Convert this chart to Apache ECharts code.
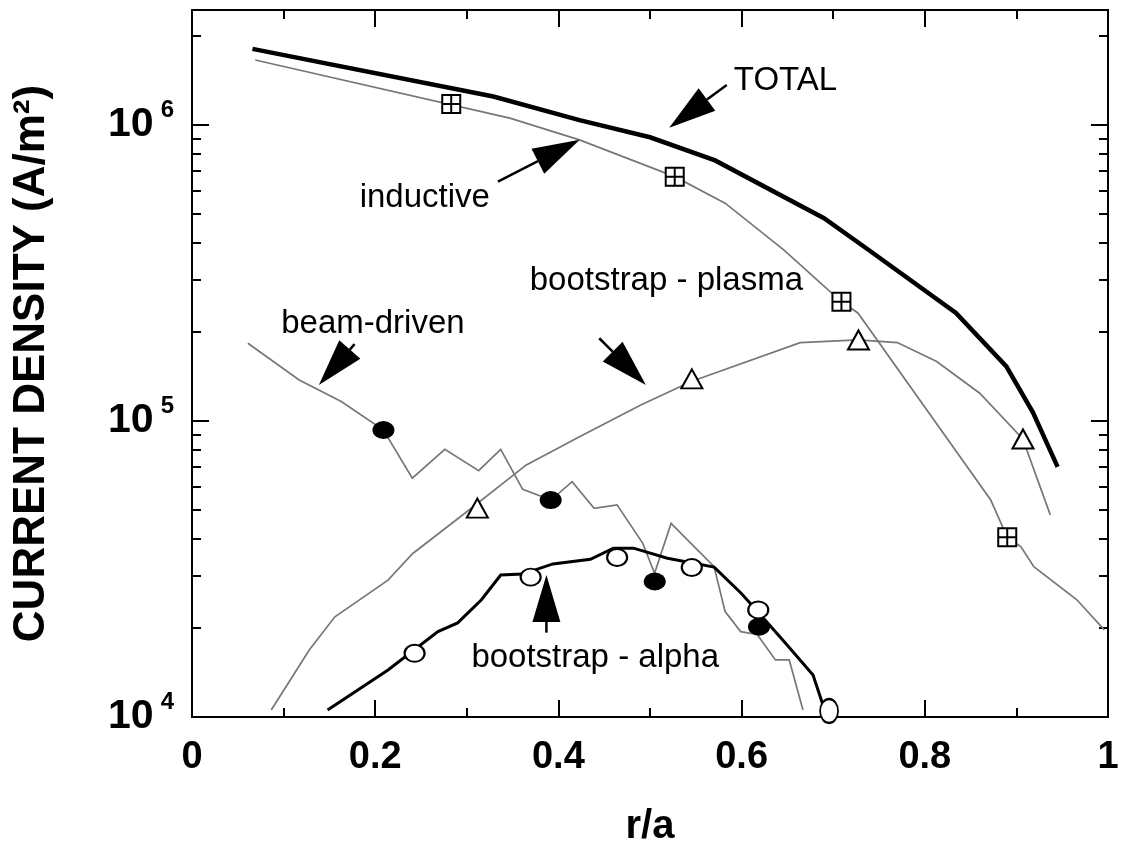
<!DOCTYPE html>
<html>
<head>
<meta charset="utf-8">
<title>Current density profiles</title>
<script src="https://cdn.jsdelivr.net/npm/echarts@6/dist/echarts.min.js"></script>
<style>
  html, body { margin: 0; padding: 0; background: #fff; }
  #chart { width: 1131px; height: 844px; }
</style>
</head>
<body>
<div id="chart"></div>
<script>
// ---- data: normalised radius r/a and current density J (A/m^2) ----
const totalR = [0.066, 0.329, 0.423, 0.500, 0.571, 0.690, 0.738, 0.834, 0.889, 0.918, 0.945];
const totalJ = [1.81e6, 1.25e6, 1.04e6, 9.1e5, 7.6e5, 4.85e5, 3.8e5, 2.32e5, 1.53e5, 1.07e5, 7.0e4];

const inductiveR = [0.069, 0.347, 0.423, 0.527, 0.582, 0.646, 0.709, 0.727, 0.872, 0.890, 0.905, 0.919, 0.966, 0.996];
const inductiveJ = [1.66e6, 1.056e6, 8.92e5, 6.70e5, 5.45e5, 3.79e5, 2.53e5, 2.32e5, 5.41e4, 4.05e4, 3.76e4, 3.22e4, 2.49e4, 1.97e4];

const plasmaR = [0.0865, 0.128, 0.156, 0.214, 0.241, 0.300, 0.365, 0.423, 0.490, 0.545, 0.664, 0.727, 0.770, 0.813, 0.860, 0.907, 0.937];
const plasmaJ = [1.056e4, 1.685e4, 2.18e4, 2.90e4, 3.57e4, 4.94e4, 7.11e4, 8.86e4, 1.134e5, 1.36e5, 1.842e5, 1.88e5, 1.842e5, 1.589e5, 1.242e5, 8.7e4, 4.82e4];

const beamR = [0.061, 0.117, 0.163, 0.209, 0.2405, 0.276, 0.313, 0.337, 0.361, 0.392, 0.415, 0.439, 0.464, 0.492, 0.505, 0.523, 0.570, 0.582, 0.599, 0.617, 0.637, 0.652, 0.667];
const beamJ = [1.833e5, 1.377e5, 1.164e5, 9.33e4, 6.41e4, 8.03e4, 6.80e4, 8.03e4, 5.88e4, 5.41e4, 6.24e4, 5.07e4, 5.21e4, 3.87e4, 3.06e4, 4.51e4, 3.22e4, 2.27e4, 1.943e4, 1.9e4, 1.559e4, 1.559e4, 1.056e4];

const alphaR = [0.148, 0.214, 0.2685, 0.290, 0.316, 0.337, 0.361, 0.394, 0.435, 0.460, 0.482, 0.519, 0.570, 0.5995, 0.616, 0.648, 0.678, 0.690];
const alphaJ = [1.056e4, 1.441e4, 1.943e4, 2.08e4, 2.49e4, 3.02e4, 3.04e4, 3.29e4, 3.41e4, 3.72e4, 3.72e4, 3.44e4, 3.21e4, 2.62e4, 2.3e4, 1.775e4, 1.387e4, 1.07e4];

// marker sets from the second calculation
const boxR = [0.283, 0.527, 0.709, 0.890];
const boxJ = [1.178e6, 6.70e5, 2.53e5, 4.05e4];
const triR = [0.3115, 0.5457, 0.7276, 0.9072];
const triJ = [5.08e4, 1.389e5, 1.88e5, 8.7e4];
const dotR = [0.209, 0.3916, 0.5052, 0.619];
const dotJ = [9.33e4, 5.41e4, 2.87e4, 2.02e4];
const ringR = [0.243, 0.3697, 0.4641, 0.5456, 0.6182, 0.6955];
const ringJ = [1.642e4, 2.97e4, 3.46e4, 3.20e4, 2.30e4, 1.048e4];

// axis ticks
const xTickStep = 0.2;
const yMajorTicks = [1e4, 1e5, 1e6];
const yMinorTicks = [2e4, 3e4, 4e4, 5e4, 6e4, 7e4, 8e4, 9e4,
                     2e5, 3e5, 4e5, 5e5, 6e5, 7e5, 8e5, 9e5, 2e6];
const yMin = 1e4, yMax = 2.45e6;

// annotations: label anchor (left, middle), arrow tip and arrow tail, in data units
const notes = [
  { text: 'TOTAL',              at: [0.5915, 1.41e6],  tip: [0.521, 9.81e5],   tail: [0.5838, 1.368e6] },
  { text: 'inductive',          at: [0.183, 5.68e5],   tip: [0.4233, 8.92e5],  tail: [0.334, 6.45e5] },
  { text: 'beam-driven',        at: [0.0974, 2.13e5],  tip: [0.1385, 1.325e5], tail: [0.1775, 1.82e5] },
  { text: 'bootstrap - plasma', at: [0.3687, 2.977e5], tip: [0.4955, 1.325e5], tail: [0.4446, 1.905e5] },
  { text: 'bootstrap - alpha',  at: [0.305, 1.583e4],  tip: [0.3869, 3.02e4],  tail: [0.3869, 1.928e4] }
];

const FONT = '"Liberation Sans", Arial, Helvetica, sans-serif';
const BLACK = '#000';
const GREY = '#777';

const zip = (xs, ys) => xs.map((x, i) => [x, ys[i]]);

function lineSeries(name, xs, ys, color, width) {
  return {
    name, type: 'line', data: zip(xs, ys), xAxisIndex: 0, yAxisIndex: 0,
    symbol: 'none', showSymbol: false, silent: true, z: 2,
    lineStyle: { color, width, cap: 'butt', join: 'miter' }
  };
}

function markerSeries(name, xs, ys, symbol, size, fill, border) {
  return {
    name, type: 'scatter', data: zip(xs, ys), xAxisIndex: 0, yAxisIndex: 0,
    symbol, symbolSize: size, silent: true, z: 4,
    itemStyle: { color: fill, borderColor: BLACK, borderWidth: border, opacity: 1 }
  };
}

const tickStyle = { color: BLACK, width: 2 };

function xAxisDef(position, withLabels) {
  return {
    type: 'value', position, min: 0, max: 1, interval: xTickStep,
    axisLine: { show: true, onZero: false, lineStyle: tickStyle },
    axisTick: { show: true, inside: true, length: 17, lineStyle: tickStyle },
    minorTick: { show: true, splitNumber: 2, length: 9, lineStyle: tickStyle },
    splitLine: { show: false }, minorSplitLine: { show: false },
    axisLabel: withLabels
      ? { show: true, margin: 22, color: BLACK, fontFamily: FONT, fontWeight: 'bold', fontSize: 38 }
      : { show: false },
    name: withLabels ? 'r/a' : '',
    nameLocation: 'middle', nameGap: 90,
    nameTextStyle: { color: BLACK, fontFamily: FONT, fontWeight: 'bold', fontSize: 40 }
  };
}

function yAxisDef(position, ticks, tickLen, opts) {
  return Object.assign({
    type: 'log', logBase: 10, position, min: yMin, max: yMax,
    axisLine: { show: true, onZero: false, lineStyle: tickStyle },
    axisTick: { show: true, inside: true, length: tickLen, customValues: ticks, lineStyle: tickStyle },
    minorTick: { show: false },
    splitLine: { show: false }, minorSplitLine: { show: false },
    axisLabel: { show: false }
  }, opts || {});
}

const option = {
  backgroundColor: '#fff',
  animation: false,
  grid: { left: 192, right: 23, top: 10, bottom: 127, outerBoundsMode: 'none', containLabel: false },
  xAxis: [xAxisDef('bottom', true), xAxisDef('top', false)],
  yAxis: [
    yAxisDef('left', yMajorTicks, 17, {
      axisLabel: {
        show: true, margin: 18, customValues: yMajorTicks,
        formatter: v => '{a|10}{b|' + Math.round(Math.log10(v)) + '}',
        rich: {
          a: { fontFamily: FONT, fontWeight: 'bold', fontSize: 41, color: BLACK },
          b: { fontFamily: FONT, fontWeight: 'bold', fontSize: 24, color: BLACK, padding: [0, 0, 30, 7] }
        }
      },
      name: 'CURRENT DENSITY (A/m²)', nameLocation: 'middle', nameRotate: 90, nameGap: 138,
      nameTextStyle: { color: BLACK, fontFamily: FONT, fontWeight: 'bold', fontSize: 44 }
    }),
    yAxisDef('left', yMinorTicks, 9),
    yAxisDef('right', yMajorTicks, 17),
    yAxisDef('right', yMinorTicks, 9)
  ],
  series: [
    lineSeries('inductive', inductiveR, inductiveJ, GREY, 1.7),
    lineSeries('bootstrap - plasma', plasmaR, plasmaJ, GREY, 1.7),
    lineSeries('beam-driven', beamR, beamJ, GREY, 1.7),
    lineSeries('bootstrap - alpha', alphaR, alphaJ, BLACK, 3),
    lineSeries('TOTAL', totalR, totalJ, BLACK, 4.5),
    markerSeries('inductive (code 2)', boxR, boxJ,
      'path://M0,0H20V20H0Z M10,0V20 M0,10H20', [18, 18], '#fff', 2),
    markerSeries('bootstrap - plasma (code 2)', triR, triJ, 'triangle', [21, 19], '#fff', 2),
    markerSeries('beam-driven (code 2)', dotR, dotJ, 'circle', [22, 18], BLACK, 0),
    Object.assign(markerSeries('bootstrap - alpha (code 2)', ringR, ringJ, 'circle', [20, 17], '#fff', 2), {
      symbolSize: (v, p) => (p.dataIndex === ringR.length - 1 ? [18, 24] : [20, 17])
    })
  ]
};

const chart = echarts.init(document.getElementById('chart'), null, { renderer: 'canvas' });
chart.setOption(option);

// arrows and labels placed in data coordinates
const toPx = v => chart.convertToPixel({ xAxisIndex: 0, yAxisIndex: 0 }, v);
const HEAD_LEN = 47, HEAD_W = 28;
const graphics = [];
notes.forEach(n => {
  const t = toPx(n.tip), s = toPx(n.tail), a = toPx(n.at);
  const dx = s[0] - t[0], dy = s[1] - t[1];
  const len = Math.hypot(dx, dy);
  const ux = dx / len, uy = dy / len;
  const bx = t[0] + ux * HEAD_LEN, by = t[1] + uy * HEAD_LEN;
  const px = -uy * HEAD_W / 2, py = ux * HEAD_W / 2;
  graphics.push({
    type: 'line', z: 20, silent: true,
    shape: { x1: bx, y1: by, x2: s[0], y2: s[1] },
    style: { stroke: BLACK, lineWidth: 2.5 }
  });
  graphics.push({
    type: 'polygon', z: 21, silent: true,
    shape: { points: [[t[0], t[1]], [bx + px, by + py], [bx - px, by - py]] },
    style: { fill: BLACK }
  });
  graphics.push({
    type: 'text', z: 22, silent: true, x: a[0], y: a[1],
    style: {
      text: n.text, fill: BLACK, font: '33px ' + FONT,
      align: 'left', verticalAlign: 'middle', textAlign: 'left', textVerticalAlign: 'middle'
    }
  });
});
chart.setOption({ graphic: graphics });
</script>
</body>
</html>
